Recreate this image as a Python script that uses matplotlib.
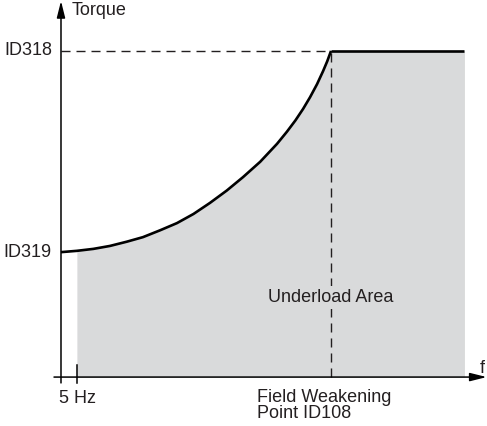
#!/usr/bin/env python
# -*- coding: utf-8 -*-
import matplotlib
matplotlib.use('Agg')
from matplotlib import pyplot

# frequency in plot units: 5 Hz at 5, field weakening point at 85
F_MIN = 5
F_FW = 85
F_MAX = 127

# torque relative to ID318
T_ID319 = 0.383
T_ID318 = 1.0

# underload curve between ID319 (at f=0) and ID318 (at field weakening)
curve_f = [0, 5, 10.2, 15.4, 20.7, 25.8, 31.2, 36.5, 41.7, 46.9, 52.2,
           57.3, 62.7, 68.0, 71.1, 73.8, 76.2, 78.4, 80.6, 82.5, 83.8, 85]
curve_t = [0.383, 0.387, 0.393, 0.402, 0.415, 0.429, 0.450, 0.472, 0.500,
           0.534, 0.572, 0.613, 0.660, 0.715, 0.752, 0.787, 0.822, 0.858,
           0.898, 0.938, 0.968, 1.0]

y_labels = ['ID318', 'ID319']
x_labels = ['5 Hz', 'Field Weakening', 'Point ID108']

INK = '#231f20'
FILL = '#d9dadb'

pyplot.rcParams['font.family'] = ['Liberation Sans', 'DejaVu Sans']

f = pyplot.figure(figsize=(4.87, 4.26), dpi=100)
ax = f.add_axes([0, 0, 1, 1])
ax.set_axis_off()
ax.set_xlim(-19.2, 134.1)
ax.set_ylim(-0.150, 1.156)

# underload area
fill_f = [x for x in curve_f if x >= F_MIN] + [F_MAX]
fill_t = [t for x, t in zip(curve_f, curve_t) if x >= F_MIN] + [T_ID318]
ax.fill_between(fill_f, 0, fill_t, color=FILL, lw=0, zorder=1)

# guide lines
ax.plot([0, F_FW], [T_ID318, T_ID318], color=INK, lw=1.0,
        dashes=(6.5, 4.3), zorder=2)
ax.plot([F_FW, F_FW], [0, T_ID318], color=INK, lw=1.0,
        dashes=(6.5, 4.3), zorder=2)

# torque limit
ax.plot(curve_f, curve_t, color='black', lw=1.9, zorder=3,
        solid_capstyle='butt', solid_joinstyle='round')
ax.plot([F_FW, F_MAX], [T_ID318, T_ID318], color='black', lw=1.9, zorder=3,
        solid_capstyle='butt')

# axes with arrows
arrow = dict(arrowstyle='-|>,head_length=1.0,head_width=0.25', lw=1.1,
             color='black', mutation_scale=10, shrinkA=0, shrinkB=0)
ax.annotate('', xy=(0, 1.153), xytext=(0, -0.018), arrowprops=arrow)
ax.annotate('', xy=(134.0, 0), xytext=(-2.2, 0), arrowprops=arrow)
ax.plot([F_MIN, F_MIN], [-0.018, 0.037], color='black', lw=1.1)

fs = 13
txt = dict(textcoords='offset points', fontsize=fs, color=INK)
ax.annotate(y_labels[0], xy=(0, T_ID318), xytext=(-6.5, 0),
            ha='right', va='center', **txt)
ax.annotate(y_labels[1], xy=(0, T_ID319), xytext=(-6.5, 0),
            ha='right', va='center', **txt)
ax.annotate('Torque', xy=(0, 1.156), xytext=(8, -10.8),
            ha='left', va='baseline', **txt)
ax.annotate('f', xy=(134.0, 0), xytext=(-3, 3),
            ha='center', va='baseline', **txt)
ax.annotate(x_labels[0], xy=(0, 0), xytext=(-1.5, -18.7),
            ha='left', va='baseline', **txt)
ax.annotate(x_labels[1], xy=(F_FW, 0), xytext=(-53, -18),
            ha='left', va='baseline', **txt)
ax.annotate(x_labels[2], xy=(F_FW, 0), xytext=(-53, -29.5),
            ha='left', va='baseline', **txt)
ax.annotate('Underload Area', xy=(F_FW, 0), xytext=(0, 54),
            ha='center', va='baseline',
            bbox=dict(boxstyle='square,pad=0.15', fc=FILL, ec='none'), **txt)

f.savefig('out.png', dpi=100)
